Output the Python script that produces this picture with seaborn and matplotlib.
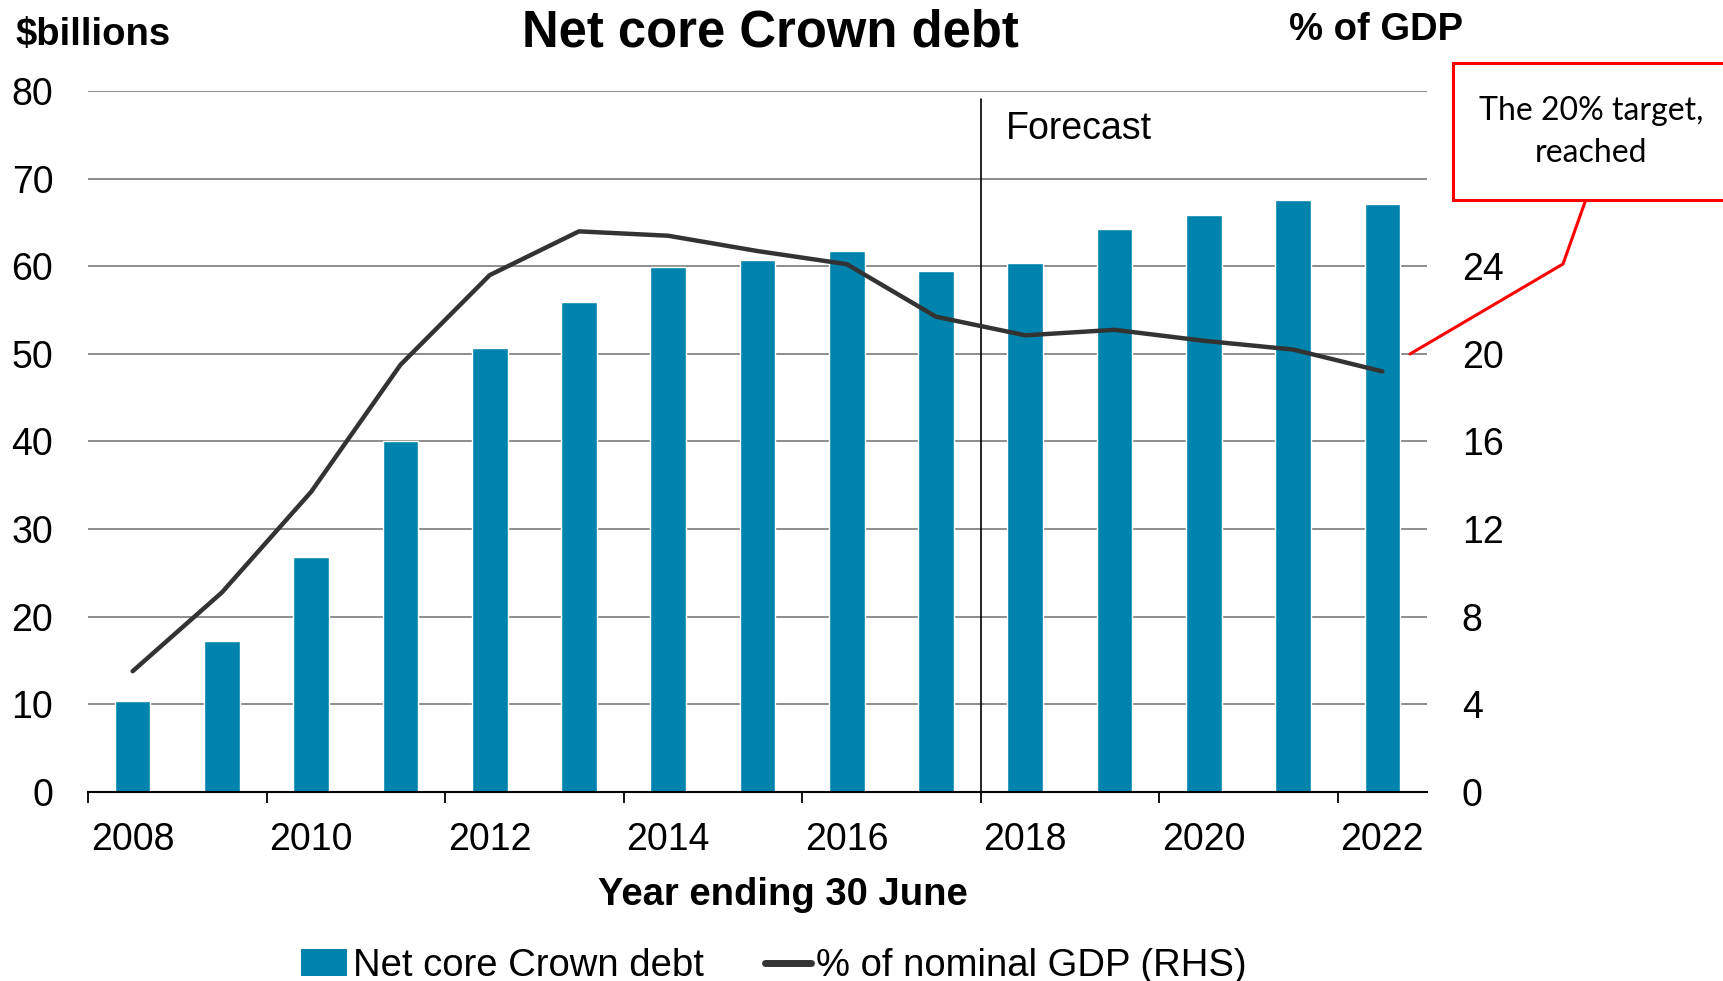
import numpy as np
import pandas as pd
import matplotlib
matplotlib.use("Agg")
import matplotlib.pyplot as plt
from matplotlib.lines import Line2D
from matplotlib.patches import Patch, Rectangle
import seaborn as sns

# ---- data ----
years = [str(y) for y in range(2008, 2023)]
debt_billions = [10.3, 17.2, 26.8, 40.1, 50.7, 55.9, 59.9, 60.7, 61.8, 59.5,
                 60.4, 64.3, 65.9, 67.6, 67.1]
pct_gdp = [5.5, 9.1, 13.7, 19.5, 23.6, 25.6, 25.4, 24.7, 24.1, 21.7,
           20.85, 21.1, 20.6, 20.2, 19.2]
left_ticks = list(range(0, 81, 10))
right_ticks = list(range(0, 25, 4))
label_years = years[::2]

bar_color = "#0083AD"
line_color = "#333333"

sns.set_theme(style="white")
plt.rcParams["font.family"] = ["Liberation Sans", "DejaVu Sans"]
plt.rcParams["text.color"] = "black"
plt.rcParams["axes.labelcolor"] = "black"
plt.rcParams["xtick.color"] = "black"
plt.rcParams["ytick.color"] = "black"

W, H = 1724, 981
fig = plt.figure(figsize=(W / 100, H / 100), dpi=100)
ax = fig.add_axes([88 / W, 1 - 791.6 / H, (1427 - 88) / W, (791.6 - 91.3) / H])

df = pd.DataFrame({"year": years, "debt": debt_billions})
sns.barplot(data=df, x="year", y="debt", color=bar_color, width=0.4,
            saturation=1, ax=ax, zorder=2)
ax.set_xlim(-0.5, len(years) - 0.5)
ax.set_ylim(0, 80)
ax.set_yticks(left_ticks)
ax.set_yticklabels([str(t) for t in left_ticks], fontsize=27)
ax.tick_params(axis="y", length=0, pad=25, labelcolor="black")
ax.yaxis.grid(True, color="#8c8c8c", linewidth=1.4)
ax.set_axisbelow(True)
ax.set_xlabel("")
ax.set_ylabel("")

# x ticks: marks at every-second category boundary, labels at even years
n = len(years)
bounds = np.arange(-0.5, n - 1, 2.0)
ax.set_xticks(bounds)
ax.set_xticklabels([""] * len(bounds))
ax.tick_params(axis="x", which="major", length=8, width=1.3, color="black",
               direction="out", bottom=True)
ax.set_xticks(np.arange(0, n, 2), minor=True)
ax.set_xticklabels(label_years, minor=True, fontsize=27)
ax.tick_params(axis="x", which="minor", length=0, pad=22, labelcolor="black")

for s in ["left", "right", "top"]:
    ax.spines[s].set_visible(False)
ax.spines["bottom"].set_color("black")
ax.spines["bottom"].set_linewidth(1.5)

# forecast divider
ax.plot([9.5, 9.5], [0, 79.1], color="black", linewidth=1.2, zorder=3)
ax.text(9.78, 75.7, "Forecast", fontsize=27, ha="left", va="center",
        color="black")

# right axis line
ax2 = ax.twinx()
sns.lineplot(x=np.arange(n), y=pct_gdp, color=line_color, linewidth=3.2,
             ax=ax2, legend=False)
ax2.set_ylim(0, 32)
ax2.set_yticks(right_ticks)
ax2.set_yticklabels([str(t) for t in right_ticks], fontsize=27)
ax2.tick_params(axis="y", length=0, pad=25, labelcolor="black")
ax2.grid(False)
for s in ["left", "right", "top", "bottom"]:
    ax2.spines[s].set_visible(False)
ax2.set_ylabel("")

# titles and axis captions
fig.text(770 / W, 1 - 33 / H, "Net core Crown debt", fontsize=36.5,
         fontweight="bold", ha="center", va="center", color="black")
fig.text(15 / W, 1 - 35 / H, "$billions", fontsize=27.5, fontweight="bold",
         ha="left", va="center", color="black")
fig.text(1289 / W, 1 - 30 / H, "% of GDP", fontsize=27.5, fontweight="bold",
         ha="left", va="center", color="black")
fig.text(783 / W, 1 - 895 / H, "Year ending 30 June", fontsize=27.5,
         fontweight="bold", ha="center", va="center", color="black")

# annotation box
rect = Rectangle((1453 / W, 1 - 200 / H), 300 / W, 137 / H,
                 transform=fig.transFigure, facecolor="white",
                 edgecolor="#FF0000", linewidth=2.2, zorder=5)
fig.patches.append(rect)
fig.text(1591 / W, 1 - 132 / H, "The 20% target,\nreached", fontsize=23,
         family=["Lato", "DejaVu Sans"], ha="center", va="center",
         linespacing=1.5, zorder=6, color="black")
px = np.array([1585, 1563, 1410])
py = np.array([202, 264, 354])
fig.add_artist(Line2D(px / W, 1 - py / H, transform=fig.transFigure,
                      color="#FF0000", linewidth=2.2, zorder=6))

# legend
handles = [Patch(facecolor=bar_color, edgecolor="none"),
           Line2D([0], [0], color=line_color, linewidth=5)]
fig.legend(handles, ["Net core Crown debt", "% of nominal GDP (RHS)"],
           loc="center", bbox_to_anchor=(774 / W, 1 - 966 / H), ncol=2,
           frameon=False, fontsize=27.5, handlelength=1.2, handleheight=0.7,
           handletextpad=0.15, columnspacing=1.6, borderpad=0,
           labelcolor="black")

fig.savefig("out.png", dpi=100)
